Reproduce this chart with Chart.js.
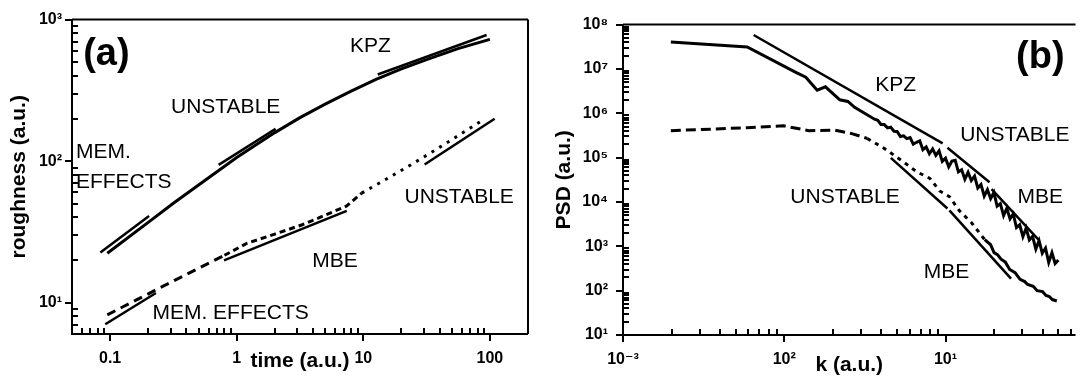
<!DOCTYPE html>
<html>
<head>
<meta charset="utf-8">
<script src="https://cdn.jsdelivr.net/npm/chart.js"></script>
<style>
  html, body { margin: 0; padding: 0; background: #fff; }
  #wrap { position: relative; width: 1086px; height: 385px; overflow: hidden; }
  .panel { position: absolute; top: 0; width: 543px; height: 385px; }
</style>
</head>
<body>
<div id="wrap">
  <div class="panel" style="left:0"><canvas id="chartA"></canvas></div>
  <div class="panel" style="left:543px"><canvas id="chartB"></canvas></div>
</div>
<script>
// ---- panel (a): roughness vs time ----
const timeSolid  = [0.095, 0.2, 0.316, 0.5, 1, 2, 3.16, 5, 7.94, 12.6, 20, 31.6, 56, 100];
const roughSolid = [22.3, 36.9, 50.4, 67.8, 106, 159, 203, 253, 311, 378, 448, 521, 624, 725];

const timeDashed  = [0.095, 0.15, 0.23, 0.4, 0.8, 1.2, 2, 3.3, 5, 7.4, 9.7, 15, 24, 40, 60, 88];
const roughDashed = [8.2, 10.1, 12.3, 15.8, 21.6, 26.2, 30.5, 35.5, 41.5, 48.2, 59.4, 74.1, 94.6, 125, 157, 195];

// fitted slopes (two end points each)
const memFitUpperT = [0.0838, 0.203],  memFitUpperR = [22.6, 41.0];
const unstFitUpperT = [0.72, 2.03],    unstFitUpperR = [94, 169];
const kpzFitT = [13.0, 94.2],          kpzFitR = [409, 778];
const memFitLowerT = [0.0916, 0.23],   memFitLowerR = [7.03, 11.7];
const mbeFitLowerT = [0.794, 7.4],     mbeFitLowerR = [19.9, 44.5];
const unstFitLowerT = [30.5, 109],     unstFitLowerR = [94.6, 199];

const xTicksA = [0.1, 1, 10, 100],   xLabelsA = ['0.1', '1', '10', '100'];
const yTicksA = [10, 100, 1000],     yLabelsA = ['10¹', '10²', '10³'];

// ---- panel (b): PSD vs k ----
const kSolid = [0.00198, 0.00589, 0.0118, 0.0136, 0.016, 0.018, 0.0221, 0.0248, 0.0273,
  0.0363, 0.038, 0.0398, 0.0417, 0.0437, 0.0457, 0.0479, 0.0501, 0.0525, 0.055, 0.0575,
  0.0603, 0.0631, 0.0661, 0.0692, 0.0724, 0.0759, 0.0794, 0.0832, 0.0871, 0.0912, 0.0955,
  0.1, 0.1047, 0.1096, 0.1148, 0.1202, 0.1259, 0.1318, 0.138, 0.1445, 0.1514, 0.1585,
  0.166, 0.1738, 0.182, 0.1905, 0.1995, 0.2089, 0.2188, 0.2291, 0.2399, 0.2512, 0.263,
  0.2754, 0.2884, 0.302, 0.3162, 0.3311, 0.3467, 0.3631, 0.3802, 0.3981, 0.4169, 0.4365,
  0.4571, 0.4786, 0.5012];
const psdSolid = [4.03e7, 3.13e7, 8.4e6, 6.5e6, 3.33e6, 3.95e6, 2.01e6, 1.85e6, 1.36e6,
  7.36e5, 6.97e5, 5.61e5, 5.56e5, 4.69e5, 4.86e5, 3.93e5, 3.89e5, 2.99e5, 3.10e5, 2.69e5,
  2.83e5, 2.01e5, 2.22e5, 2.39e5, 1.51e5, 1.75e5, 1.22e5, 1.57e5, 1.12e5, 1.42e5, 8.24e4,
  9.75e4, 6.19e4, 8.41e4, 8.75e4, 4.78e4, 5.32e4, 3.26e4, 4.67e4, 3.06e4, 3.83e4, 2.06e4,
  2.48e4, 1.36e4, 1.89e4, 1.19e4, 1.64e4, 8.05e3, 9.16e3, 4.94e3, 7.18e3, 4.16e3, 5.38e3,
  2.65e3, 3.06e3, 1.65e3, 2.58e3, 1.39e3, 1.68e3, 867, 1.34e3, 698, 914, 435,
  716, 409, 489];

const kDashed = [0.00198, 0.00589, 0.00986, 0.0142, 0.0207, 0.0262, 0.0327, 0.0415, 0.0548,
  0.0658, 0.08, 0.092, 0.106, 0.1216, 0.145, 0.175, 0.19, 0.2, 0.21, 0.221, 0.235, 0.25,
  0.27, 0.29, 0.31, 0.323, 0.35, 0.37, 0.4, 0.42, 0.44, 0.46, 0.49];
const psdDashed = [4.06e5, 4.72e5, 5.22e5, 4.06e5, 4.16e5, 3.48e5, 2.71e5, 1.63e5, 8.05e4,
  4.86e4, 3.41e4, 1.77e4, 1.31e4, 6.4e3, 3.4e3, 1.41e3, 1.1e3, 720, 650, 514, 440, 300,
  255, 180, 160, 138, 125, 100, 95, 78, 74, 63, 58.6];

const kpzFitK = [0.00646, 0.096],       kpzFitP = [5.82e7, 2.10e5];
const unstFitUpperK = [0.1028, 0.1875], unstFitUpperP = [1.67e5, 2.79e4];
const mbeFitUpperK = [0.193, 0.377],    mbeFitUpperP = [1.95e4, 1.41e3];
const unstFitLowerK = [0.0458, 0.1028], unstFitLowerP = [9.86e4, 7.13e3];
const mbeFitLowerK = [0.1057, 0.2548],  mbeFitLowerP = [6.44e3, 187];

const xTicksB = [0.001, 0.01, 0.1],  xLabelsB = ['10⁻³', '10²', '10¹'];
const yTicksB = [10, 100, 1e3, 1e4, 1e5, 1e6, 1e7, 1e8];
const yLabelsB = ['10¹', '10²', '10³', '10⁴', '10⁵', '10⁶', '10⁷', '10⁸'];

const FAMILY = "'Liberation Sans', Arial, 'DejaVu Sans', sans-serif";
const tickFont = { family: FAMILY, size: 16, weight: 'bold' };
const titleFont = { family: FAMILY, size: 21, weight: 'bold' };
const NOTE = '21px ' + FAMILY;
const PANEL = 'bold 38px ' + FAMILY;

function pts(xs, ys) {
  return xs.map((v, i) => ({ x: v, y: ys[i] }));
}

function series(xs, ys, width, dashFn) {
  const ds = {
    data: pts(xs, ys),
    borderColor: '#000',
    borderWidth: width,
    pointRadius: 0,
    fill: false,
    tension: 0
  };
  if (dashFn) ds.segment = { borderDash: dashFn };
  return ds;
}

function sameVal(a, b) {
  return Math.abs(Math.log10(a / b)) < 1e-6;
}

function logTicks(min, max) {
  const out = [];
  for (let e = Math.floor(Math.log10(min)); e <= Math.ceil(Math.log10(max)); e++) {
    for (let m = 1; m < 10; m++) {
      const v = m * Math.pow(10, e);
      if (v >= min * 0.999 && v <= max * 1.001) out.push({ value: v });
    }
  }
  return out;
}

function labeller(values, labels) {
  return function(value) {
    const i = values.findIndex(t => sameVal(t, value));
    return i >= 0 ? labels[i] : '';
  };
}

// frame and ticks: majors point out, minors point in
function frameTicks(cfg) {
  return {
    id: 'frameTicks',
    afterDraw(chart) {
      const { ctx, chartArea: a, scales } = chart;
      const xs = scales.x, ys = scales.y;
      ctx.save();
      ctx.strokeStyle = '#000';
      ctx.lineWidth = 2;
      ctx.beginPath();
      ctx.moveTo(a.left, a.top); ctx.lineTo(a.left, a.bottom); ctx.lineTo(a.right, a.bottom);
      ctx.moveTo(a.left, a.top); ctx.lineTo(a.right, a.top);
      if (cfg.right) { ctx.moveTo(a.right, a.top); ctx.lineTo(a.right, a.bottom); }
      ctx.stroke();

      const xVals = logTicks(xs.min, xs.max).map(t => t.value);
      const yVals = logTicks(ys.min, ys.max).map(t => t.value);
      ctx.lineWidth = 2;
      ctx.beginPath();
      xVals.forEach(v => {
        const px = Math.round(xs.getPixelForValue(v));
        const major = cfg.xMajor.some(m => sameVal(m, v));
        ctx.moveTo(px, a.bottom);
        ctx.lineTo(px, major ? a.bottom + 7 : a.bottom - 6);
      });
      yVals.forEach(v => {
        const py = Math.round(ys.getPixelForValue(v));
        const major = cfg.yMajor.some(m => sameVal(m, v));
        ctx.moveTo(a.left, py);
        ctx.lineTo(major ? a.left - 7 : a.left + 6, py);
      });
      ctx.stroke();
      ctx.restore();
    }
  };
}

function notes(items) {
  return {
    id: 'notes',
    afterDraw(chart) {
      const { ctx, scales: { x, y } } = chart;
      ctx.save();
      ctx.fillStyle = '#000';
      ctx.textBaseline = 'middle';
      items.forEach(n => {
        ctx.font = n.font || NOTE;
        ctx.textAlign = n.align || 'center';
        ctx.fillText(n.text, x.getPixelForValue(n.x), y.getPixelForValue(n.y));
      });
      ctx.restore();
    }
  };
}

function logAxis(min, max, ticks, labels, pad, fitFn, title, titlePad) {
  return {
    type: 'logarithmic',
    min: min,
    max: max,
    afterBuildTicks: s => { s.ticks = logTicks(min, max); },
    afterFit: fitFn,
    grid: { display: false, drawTicks: false },
    border: { display: false },
    ticks: {
      autoSkip: false,
      maxRotation: 0,
      padding: pad,
      color: '#000',
      font: tickFont,
      callback: labeller(ticks, labels)
    },
    title: { display: true, text: title, color: '#000', font: titleFont, padding: titlePad }
  };
}

// dash styles change along the curves
const dashA = ctx => ctx.p0.parsed.x < 0.8 ? [9, 6] : (ctx.p0.parsed.x < 9 ? [6, 4] : [3, 6]);
const dashB = ctx => ctx.p0.parsed.x < 0.03 ? [10, 5] : (ctx.p0.parsed.x < 0.17 ? [4, 5] : []);

new Chart(document.getElementById('chartA'), {
  type: 'line',
  data: {
    datasets: [
      series(timeSolid, roughSolid, 3),
      series(timeDashed, roughDashed, 3, dashA),
      series(memFitUpperT, memFitUpperR, 2.5),
      series(unstFitUpperT, unstFitUpperR, 2.5),
      series(kpzFitT, kpzFitR, 2.5),
      series(memFitLowerT, memFitLowerR, 2.5),
      series(mbeFitLowerT, mbeFitLowerR, 2.5),
      series(unstFitLowerT, unstFitLowerR, 2.5)
    ]
  },
  options: {
    responsive: true,
    maintainAspectRatio: false,
    animation: false,
    layout: { padding: { top: 16, right: 8, left: 0, bottom: 0 } },
    plugins: { legend: { display: false }, tooltip: { enabled: false } },
    scales: {
      x: logAxis(0.05, 200, xTicksA, xLabelsA, 15, s => { s.height = 51; },
                 'time (a.u.)', { top: 0, bottom: 11 }),
      y: logAxis(6, 1000, yTicksA, yLabelsA, 10, s => { s.width = 72; },
                 'roughness (a.u.)', { top: 7, bottom: 0 })
    }
  },
  plugins: [
    frameTicks({ right: true, xMajor: xTicksA, yMajor: yTicksA }),
    notes([
      { text: '(a)', x: 0.0935, y: 569, font: PANEL },
      { text: 'UNSTABLE', x: 0.818, y: 239 },
      { text: 'KPZ', x: 11.4, y: 647 },
      { text: 'MEM.', x: 0.0537, y: 116, align: 'left' },
      { text: 'EFFECTS', x: 0.0537, y: 71.4, align: 'left' },
      { text: 'UNSTABLE', x: 57.2, y: 55.2 },
      { text: 'MBE', x: 5.98, y: 19.7 },
      { text: 'MEM. EFFECTS', x: 0.895, y: 8.4 }
    ])
  ]
});

new Chart(document.getElementById('chartB'), {
  type: 'line',
  data: {
    datasets: [
      series(kSolid, psdSolid, 3),
      series(kDashed, psdDashed, 3, dashB),
      series(kpzFitK, kpzFitP, 2.5),
      series(unstFitUpperK, unstFitUpperP, 2.5),
      series(mbeFitUpperK, mbeFitUpperP, 2.5),
      series(unstFitLowerK, unstFitLowerP, 2.5),
      series(mbeFitLowerK, mbeFitLowerP, 2.5)
    ]
  },
  options: {
    responsive: true,
    maintainAspectRatio: false,
    animation: false,
    layout: { padding: { top: 16, right: 0, left: 0, bottom: 0 } },
    plugins: { legend: { display: false }, tooltip: { enabled: false } },
    scales: {
      x: logAxis(0.001, 0.64, xTicksB, xLabelsB, 15, s => { s.height = 50; },
                 'k (a.u.)', { top: 0, bottom: 7 }),
      y: logAxis(10, 1e8, yTicksB, yLabelsB, 15, s => { s.width = 80; },
                 'PSD (a.u.)', { top: 9, bottom: 0 })
    }
  },
  plugins: [
    frameTicks({ right: false, xMajor: xTicksB, yMajor: yTicksB }),
    notes([
      { text: '(b)', x: 0.387, y: 1.79e7, font: PANEL },
      { text: 'KPZ', x: 0.0491, y: 4.36e6 },
      { text: 'UNSTABLE', x: 0.269, y: 3.15e5 },
      { text: 'MBE', x: 0.387, y: 1.31e4 },
      { text: 'UNSTABLE', x: 0.0238, y: 1.31e4 },
      { text: 'MBE', x: 0.1014, y: 267 }
    ])
  ]
});
</script>
</body>
</html>
